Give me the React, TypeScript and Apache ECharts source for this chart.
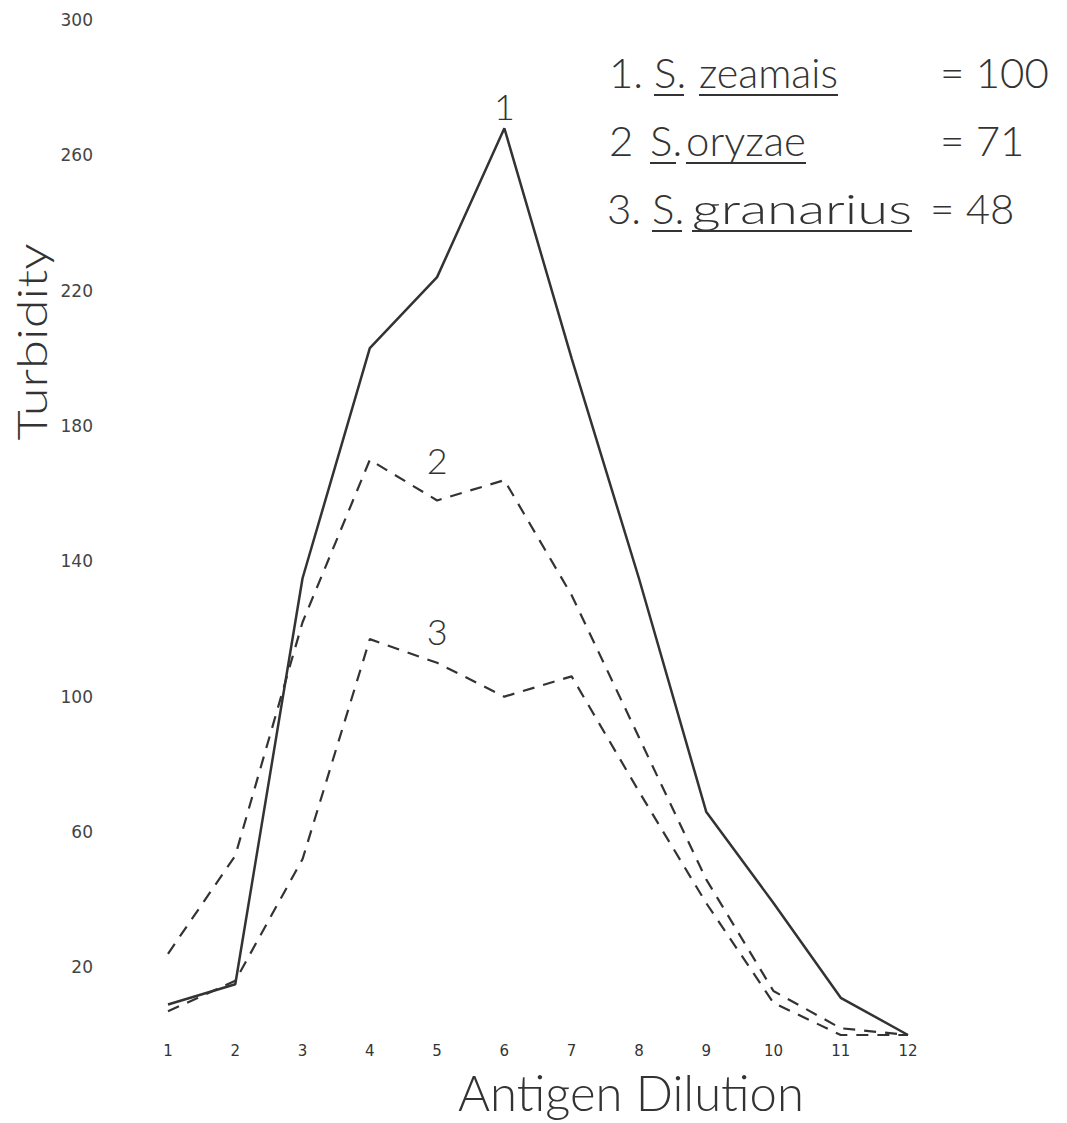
import React, { useEffect, useRef } from "react";
import * as echarts from "echarts";

const categories = ["1", "2", "3", "4", "5", "6", "7", "8", "9", "10", "11", "12"];
const zeamais = [9, 15, 135, 203, 224, 268, 200, 135, 66, 39, 11, 0];
const oryzae = [24, 53, 122, 170, 158, 164, 130, 88, 46, 13, 2, 0];
const granarius = [7, 16, 52, 117, 110, 100, 106, 72, 39, 9.5, 0, 0];
const yTickLabels = [20, 60, 100, 140, 180, 220, 260, 300];
const seriesTags = ["1", "2", "3"];
const tagIndex = [5, 4, 4];
const legendNums = ["1.", "2", "3."];
const legendGenus = ["S.", "S.", "S."];
const legendSpecies = ["zeamais", "oryzae", "granarius"];
const legendValues = ["= 100", "= 71", "= 48"];

const INK = "#333333";
const FONT = "Lato, 'DejaVu Sans', sans-serif";

function measure(text: string, size: number, weight: number | string = 300) {
  const c = document.createElement("canvas");
  const ctx = c.getContext("2d");
  if (!ctx) return text.length * size * 0.5;
  ctx.font = `${weight} ${size}px ${FONT}`;
  return ctx.measureText(text).width || text.length * size * 0.5;
}

function withTag(values: number[], idx: number, tag: string, dist: number) {
  return values.map((v, i) =>
    i === idx
      ? {
          value: v,
          label: {
            show: true,
            position: "top",
            distance: dist,
            formatter: tag,
            fontSize: 36,
            fontFamily: FONT,
            fontWeight: 300,
            color: INK,
          },
        }
      : v
  );
}

export default function App() {
  const ref = useRef<HTMLDivElement>(null);
  useEffect(() => {
    if (!ref.current) return;
    const chart = echarts.init(ref.current, undefined, { renderer: "svg" });
    const LS = 42;
    const legendRows = [
      { base: 84, num: 609, gen: [654, 684], sp: [699, 838], val: 940 },
      { base: 152, num: 609, gen: [650, 676], sp: [686, 806], val: 940 },
      { base: 220, num: 607, gen: [652, 682], sp: [692, 912], val: 930 },
    ];
    const graphic: any[] = [];
    const txt = (text: string, x: number, base: number, sx = 1) => {
      graphic.push({
        type: "text",
        x,
        y: base,
        scaleX: sx,
        style: {
          text,
          fontSize: LS,
          fontFamily: FONT,
          fontWeight: 300,
          fill: INK,
          textVerticalAlign: "bottom",
        },
      });
    };
    legendRows.forEach((r, i) => {
      txt(legendNums[i], r.num, r.base + 9);
      txt(legendGenus[i], r.gen[0], r.base + 9);
      const w = measure(legendSpecies[i], LS);
      const sx = Math.max(0.85, Math.min(1.35, (r.sp[1] - r.sp[0]) / w));
      txt(legendSpecies[i], r.sp[0], r.base + 9, sx);
      const spEnd = r.sp[0] + w * sx;
      txt(legendValues[i], r.val, r.base + 9);
      graphic.push({
        type: "line",
        shape: { x1: r.gen[0], y1: r.base + 11, x2: r.gen[1], y2: r.base + 11 },
        style: { stroke: INK, lineWidth: 2 },
      });
      graphic.push({
        type: "line",
        shape: { x1: r.sp[0], y1: r.base + 11, x2: spEnd, y2: r.base + 11 },
        style: { stroke: INK, lineWidth: 2 },
      });
    });
    graphic.push({
      type: "text",
      x: 31,
      y: 342,
      rotation: Math.PI / 2,
      scaleX: 1.25,
      style: {
        text: "Turbidity",
        fontSize: 42,
        fontFamily: FONT,
        fontWeight: 300,
        fill: INK,
        textAlign: "center",
        textVerticalAlign: "middle",
      },
    });
    graphic.push({
      type: "text",
      x: 631,
      y: 1092,
      style: {
        text: "Antigen Dilution",
        fontSize: 49,
        fontFamily: FONT,
        fontWeight: 300,
        fill: INK,
        textAlign: "center",
        textVerticalAlign: "middle",
      },
    });

    const lineCommon = {
      type: "line",
      showSymbol: true,
      symbol: "circle",
      symbolSize: 0,
      itemStyle: { color: INK },
      emphasis: { disabled: true },
    };

    chart.setOption({
      animation: false,
      backgroundColor: "#ffffff",
      grid: { left: 168, right: 159, top: 20, bottom: 88 },
      xAxis: {
        type: "category",
        data: categories,
        boundaryGap: false,
        axisLine: { show: false },
        axisTick: { show: false },
        splitLine: { show: false },
        axisLabel: { fontSize: 15, color: INK, margin: 8, fontFamily: "'DejaVu Sans', sans-serif" },
      },
      yAxis: {
        type: "value",
        min: 0,
        max: 300,
        interval: 20,
        axisLine: { show: false },
        axisTick: { show: false },
        splitLine: { show: false },
        axisLabel: {
          fontSize: 17,
          color: "#444444",
          align: "right",
          margin: 75,
          fontFamily: "'DejaVu Sans', sans-serif",
          formatter: (v: number) => (yTickLabels.includes(v) ? String(v) : ""),
        },
      },
      series: [
        {
          ...lineCommon,
          name: "S. zeamais",
          data: withTag(zeamais, tagIndex[0], seriesTags[0], 4),
          lineStyle: { color: INK, width: 2.5, type: "solid" },
        },
        {
          ...lineCommon,
          name: "S. oryzae",
          data: withTag(oryzae, tagIndex[1], seriesTags[1], 22),
          lineStyle: { color: INK, width: 2.2, type: [12, 9] },
        },
        {
          ...lineCommon,
          name: "S. granarius",
          data: withTag(granarius, tagIndex[2], seriesTags[2], 14),
          lineStyle: { color: INK, width: 2.2, type: [12, 9] },
        },
      ],
      graphic,
    });
    return () => chart.dispose();
  }, []);
  return (
    <div
      ref={ref}
      style={{ position: "absolute", left: 0, top: 0, width: 1067, height: 1123, background: "#fff" }}
    />
  );
}
